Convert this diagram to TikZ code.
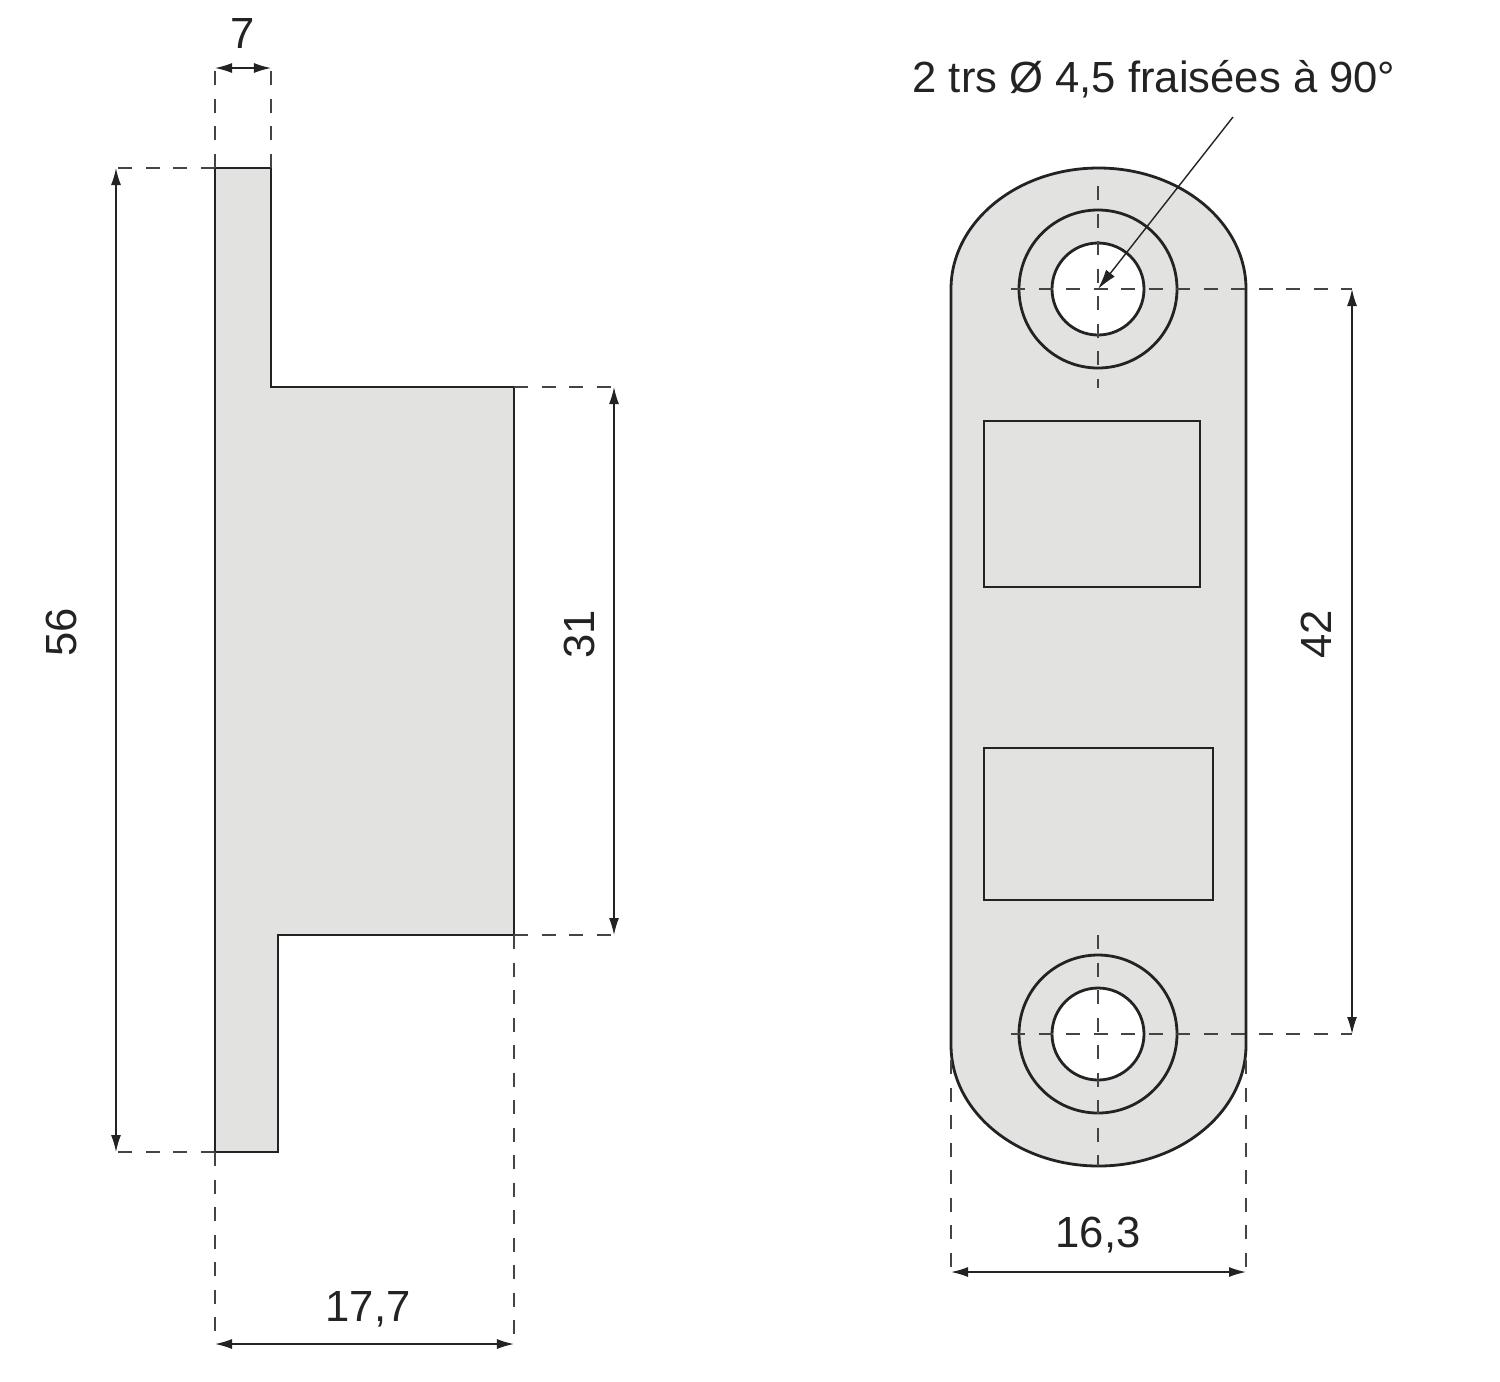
\documentclass[tikz,border=0pt]{standalone}
\usepackage{fontspec}
\setmainfont{Liberation Sans}
\usetikzlibrary{arrows.meta}
\definecolor{partgray}{RGB}{226,226,225}
\definecolor{inkgray}{RGB}{35,35,35}
\tikzset{
    outline/.style={draw=inkgray,line width=0.028cm,line join=miter},
    dimline/.style={draw=inkgray,line width=0.014cm,{Latex[length=0.17cm,width=0.1cm]}-{Latex[length=0.17cm,width=0.1cm]}},
    helper/.style={draw=inkgray!85,line width=0.016cm,dash pattern=on 0.14cm off 0.135cm},
    dimtext/.style={text=inkgray,inner sep=0pt,font=\fontsize{12.4pt}{14pt}\selectfont}
}
\begin{document}
\begin{tikzpicture}[x=0.01cm,y=-0.01cm]
    \useasboundingbox (0,0) rectangle (1500,1381);
    % side view
    \filldraw[outline,fill=partgray] (215,168)--(271,168)--(271,387)--(514,387)--(514,935)--(278,935)--(278,1152)--(215,1152)--cycle;
    % front view
    \filldraw[outline,fill=partgray] (951,289) arc[start angle=180,end angle=0,x radius=147.5,y radius=-121]--(1246,1045) arc[start angle=0,end angle=-180,x radius=147.5,y radius=-121]--cycle;
    \draw[outline] (1098,289) circle (79);
    \filldraw[outline,fill=white] (1098,289) circle (46);
    \draw[outline] (1098,1034) circle (79);
    \filldraw[outline,fill=white] (1098,1034) circle (46);
    \draw[outline] (984,421) rectangle (1200,587);
    \draw[outline] (984,748) rectangle (1213,900);
    % anchors of the dimensions
    \coordinate (topL) at (215,168);
    \coordinate (topR) at (271,168);
    \coordinate (botL) at (215,1152);
    \coordinate (stepT) at (514,387);
    \coordinate (stepB) at (514,935);
    \coordinate (holeT) at (1098,289);
    \coordinate (holeB) at (1098,1034);
    \coordinate (sideL) at (951,1060);
    \coordinate (sideR) at (1246,1060);
    \coordinate (d7L) at (215,68);
    \coordinate (d7R) at (271,68);
    \coordinate (d56T) at (116,168);
    \coordinate (d56B) at (116,1152);
    \coordinate (d31T) at (614,387);
    \coordinate (d31B) at (614,935);
    \coordinate (d177L) at (215,1344);
    \coordinate (d177R) at (514,1344);
    \coordinate (d42T) at (1352,289);
    \coordinate (d42B) at (1352,1034);
    \coordinate (d163L) at (951,1272);
    \coordinate (d163R) at (1246,1272);
    \coordinate (leadEnd) at (1233,117);
    % dashed lines
    \draw[helper] (topL)--(d7L);
    \draw[helper] (topR)--(d7R);
    \draw[helper] (topL)--(d56T);
    \draw[helper] (botL)--(d56B);
    \draw[helper] (stepT)--(d31T);
    \draw[helper] (stepB)--(d31B);
    \draw[helper] (botL)--(d177L);
    \draw[helper] (stepB)--(d177R);
    \draw[helper] (sideL)--(d163L);
    \draw[helper] (sideR)--(d163R);
    \draw[helper] (1011,289)--(d42T);
    \draw[helper] (1011,1034)--(d42B);
    \draw[helper] (1098,186)--(1098,388);
    \draw[helper] (1098,935)--(1098,1166);
    % dimensions
    \draw[dimline] (d7L)--(d7R);
    \draw[dimline] (d56T)--(d56B);
    \draw[dimline] (d31T)--(d31B);
    \draw[dimline] (d177L)--(d177R);
    \draw[dimline] (d42T)--(d42B);
    \draw[dimline] (d163L)--(d163R);
    \draw[draw=inkgray,line width=0.014cm,-{Latex[length=0.2cm,width=0.11cm]}] (leadEnd)--(holeT);
    % labels
    \node[dimtext] (lab7) at (243,33) {7};
    \node[dimtext,rotate=90] (lab56) at (61,632) {56};
    \node[dimtext,rotate=90] (lab31) at (579,634) {31};
    \node[dimtext] (lab177) at (368,1309) {17,7};
    \node[dimtext,rotate=90] (lab42) at (1316,634) {42};
    \node[dimtext] (lab163) at (1098,1235) {16,3};
    \node[dimtext] (labhole) at (1154,79) {2 trs Ø 4,5 fraisées à 90°};
\end{tikzpicture}
\end{document}
